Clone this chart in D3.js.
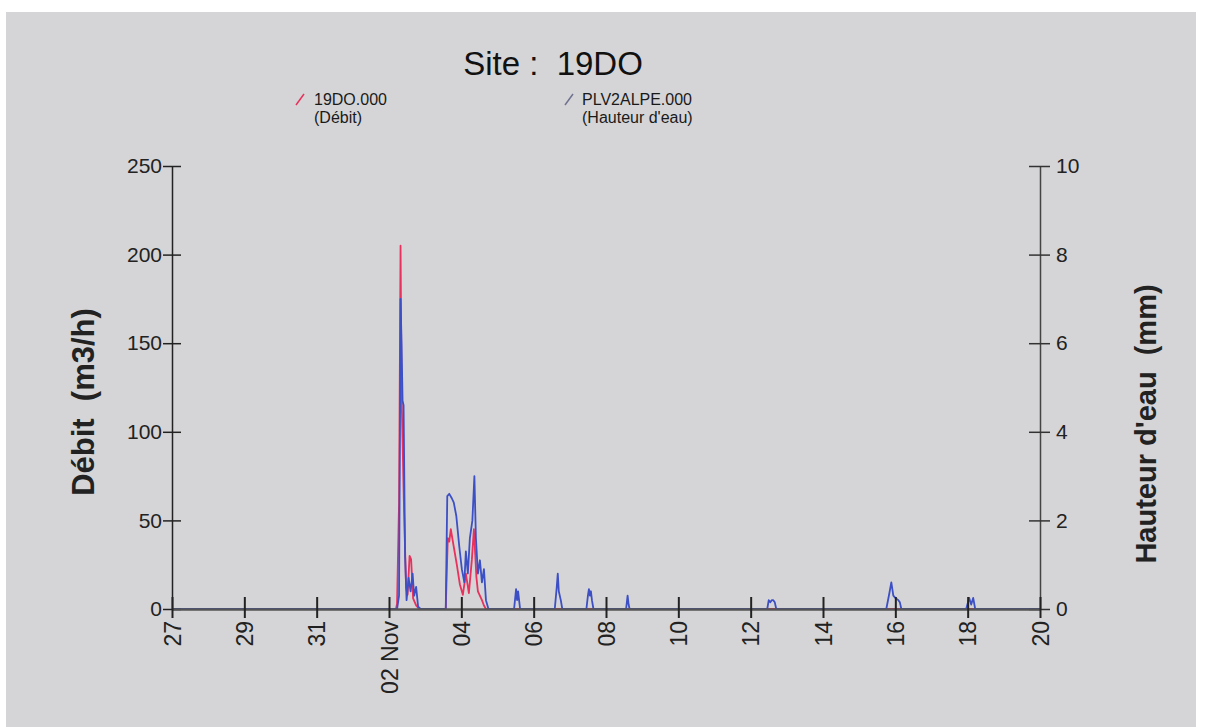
<!DOCTYPE html>
<html><head><meta charset="utf-8">
<script src="https://cdn.jsdelivr.net/npm/d3@7"></script>
<style>
body{margin:0;background:#fff;}
svg{display:block;font-family:"Liberation Sans",Arial,sans-serif;}
svg text{white-space:pre;}
</style>
</head><body>
<svg id="c" width="1206" height="727"></svg>
<script>
// ---- data ----
const titleText = "Site :  19DO";
const debitName = "19DO.000", debitLabel = "(Débit)";
const hauteurName = "PLV2ALPE.000", hauteurLabel = "(Hauteur d'eau)";

const debitTimes = ["2009-10-27T00:00","2009-11-02T04:40","2009-11-02T05:20","2009-11-02T06:40","2009-11-02T07:40","2009-11-02T08:20","2009-11-02T09:00","2009-11-02T10:00","2009-11-02T11:20","2009-11-02T12:20","2009-11-02T13:40","2009-11-02T14:40","2009-11-02T16:00","2009-11-02T18:00","2009-11-02T20:00","2009-11-03T13:40","2009-11-03T15:00","2009-11-03T16:00","2009-11-03T17:00","2009-11-03T19:00","2009-11-03T21:00","2009-11-03T23:00","2009-11-04T01:00","2009-11-04T03:00","2009-11-04T05:00","2009-11-04T07:00","2009-11-04T08:20","2009-11-04T10:00","2009-11-04T11:00","2009-11-04T13:40","2009-11-04T15:00","2009-11-04T16:20","2009-11-20T00:00"];
const debitValues = [0,0,3,60,205,120,95,55,12,8,30,28,6,2,0,0,40,38,45,35,25,14,8,20,9,28,45,18,10,5,2,0,0];

const hauteurTimes = ["2009-10-27T00:00","2009-11-02T05:20","2009-11-02T06:40","2009-11-02T07:20","2009-11-02T07:40","2009-11-02T08:20","2009-11-02T09:00","2009-11-02T09:40","2009-11-02T10:40","2009-11-02T11:40","2009-11-02T13:00","2009-11-02T14:20","2009-11-02T15:40","2009-11-02T16:40","2009-11-02T18:00","2009-11-02T19:20","2009-11-02T21:00",
"2009-11-03T13:40","2009-11-03T14:40","2009-11-03T16:00","2009-11-03T17:40","2009-11-03T19:00","2009-11-03T20:40","2009-11-03T22:40","2009-11-04T00:20","2009-11-04T02:00","2009-11-04T03:00","2009-11-04T04:20","2009-11-04T05:40","2009-11-04T07:20","2009-11-04T08:40","2009-11-04T09:40","2009-11-04T11:00","2009-11-04T12:20","2009-11-04T13:40","2009-11-04T15:00","2009-11-04T16:20","2009-11-04T18:00",
"2009-11-05T11:00","2009-11-05T12:20","2009-11-05T13:00","2009-11-05T13:40","2009-11-05T15:00",
"2009-11-06T14:00","2009-11-06T15:20","2009-11-06T16:00","2009-11-06T16:40","2009-11-06T18:00","2009-11-06T19:00",
"2009-11-07T11:00","2009-11-07T12:00","2009-11-07T12:40","2009-11-07T13:20","2009-11-07T14:00","2009-11-07T14:40","2009-11-07T15:40",
"2009-11-08T13:20","2009-11-08T14:20","2009-11-08T15:00","2009-11-08T15:40",
"2009-11-12T11:00","2009-11-12T12:00","2009-11-12T13:00","2009-11-12T14:00","2009-11-12T15:00","2009-11-12T16:00","2009-11-12T17:00",
"2009-11-15T18:00","2009-11-15T20:00","2009-11-15T21:20","2009-11-15T22:40","2009-11-16T00:00","2009-11-16T02:00","2009-11-16T03:00","2009-11-16T04:00",
"2009-11-17T23:00","2009-11-18T01:00","2009-11-18T02:20","2009-11-18T03:40","2009-11-18T05:00","2009-11-20T00:00"];
const hauteurValues = [0,0,0.3,4.5,7.0,6.0,4.7,4.6,1.2,0.2,0.7,0.4,0.8,0.3,0.5,0.05,0,
0,2.55,2.6,2.5,2.4,2.1,1.4,0.9,0.6,1.3,0.8,1.6,2.0,3.0,1.6,0.8,1.1,0.6,0.9,0.2,0,
0,0.45,0.2,0.4,0,
0,0.5,0.8,0.4,0.2,0,
0,0.3,0.45,0.3,0.4,0.2,0,
0,0.3,0.1,0,
0,0.2,0.15,0.2,0.2,0.15,0,
0,0.35,0.6,0.3,0.25,0.2,0.15,0,
0,0.25,0.1,0.25,0,0];

const xDomain = ["2009-10-27T00:00","2009-11-20T00:00"];
const xTickDates = ["2009-10-27T00:00","2009-10-29T00:00","2009-10-31T00:00","2009-11-02T00:00","2009-11-04T00:00","2009-11-06T00:00","2009-11-08T00:00","2009-11-10T00:00","2009-11-12T00:00","2009-11-14T00:00","2009-11-16T00:00","2009-11-18T00:00","2009-11-20T00:00"];
const xTickLabels = ["27","29","31","02 Nov","04","06","08","10","12","14","16","18","20"];
const leftTicks = [0,50,100,150,200,250];
const rightTicks = [0,2,4,6,8,10];
const leftTitle = "Débit  (m3/h)";
const rightTitle = "Hauteur d'eau  (mm)";

// ---- drawing ----
const parse = d3.utcParse("%Y-%m-%dT%H:%M");
const svg = d3.select("#c");
const W = 1206, H = 727;
const m = {left:172, right:1040, top:166, bottom:609};
const FONT = "Liberation Sans, Arial, sans-serif";

svg.append("rect").attr("x",0).attr("y",0).attr("width",W).attr("height",H).attr("fill","#ffffff");
svg.append("rect").attr("x",6).attr("y",12).attr("width",1190).attr("height",H-12).attr("fill","#d5d5d7");

const x = d3.scaleUtc().domain(xDomain.map(parse)).range([m.left, m.right]);
const yL = d3.scaleLinear().domain([0,250]).range([m.bottom, m.top]);
const yR = d3.scaleLinear().domain([0,10]).range([m.bottom, m.top]);

const debit = debitTimes.map((t,i)=>({t:parse(t), v:debitValues[i]}));
const hauteur = hauteurTimes.map((t,i)=>({t:parse(t), v:hauteurValues[i]}));

svg.append("path").datum(debit)
  .attr("d", d3.line().x(d=>x(d.t)).y(d=>yL(d.v)))
  .attr("fill","none").attr("stroke","#e8315c").attr("stroke-width",1.8).attr("stroke-linejoin","round");
svg.append("path").datum(hauteur)
  .attr("d", d3.line().x(d=>x(d.t)).y(d=>yR(d.v)))
  .attr("fill","none").attr("stroke","#3c4fc4").attr("stroke-width",1.8).attr("stroke-linejoin","round");

// left axis
const gL = svg.append("g").attr("transform",`translate(${m.left},0)`)
  .call(d3.axisLeft(yL).tickValues(leftTicks).tickSize(9).tickPadding(1).tickSizeOuter(0));
gL.selectAll(".tick line").clone().attr("x2",9);
gL.select(".domain").attr("stroke","#222").attr("stroke-width",1.5);
gL.selectAll(".tick line").attr("stroke","#222").attr("stroke-width",1.5);
gL.selectAll("text").attr("font-size",21).attr("fill","#222").attr("font-family",FONT);

// right axis
const gR = svg.append("g").attr("transform",`translate(${m.right},0)`)
  .call(d3.axisRight(yR).tickValues(rightTicks).tickSize(10).tickPadding(6).tickSizeOuter(0));
gR.selectAll(".tick line").clone().attr("x2",-11);
gR.select(".domain").attr("stroke","#444").attr("stroke-width",1.5);
gR.selectAll(".tick line").attr("stroke","#333").attr("stroke-width",1.5);
gR.selectAll("text").attr("font-size",21).attr("fill","#222").attr("font-family",FONT);

// bottom axis
const gB = svg.append("g").attr("transform",`translate(0,${m.bottom})`)
  .call(d3.axisBottom(x).tickValues(xTickDates.map(parse)).tickFormat((d,i)=>xTickLabels[i]).tickSize(9).tickSizeOuter(0));
gB.selectAll(".tick line").clone().attr("y2",-12);
gB.select(".domain").attr("stroke","#555").attr("stroke-width",2.5);
gB.selectAll(".tick line").attr("stroke","#222").attr("stroke-width",2);
gB.selectAll("text").attr("font-size",23).attr("fill","#222")
  .attr("font-family",FONT)
  .attr("text-anchor","end").attr("transform","rotate(-90)")
  .attr("x",-12).attr("y",0).attr("dy","0.35em");

// titles
svg.append("text").attr("x",553).attr("y",75).attr("text-anchor","middle")
  .attr("font-size",33).attr("fill","#111").text(titleText);

svg.append("text").attr("transform","translate(94,402) rotate(-90)").attr("text-anchor","middle")
  .attr("font-size",31).attr("font-weight","bold").attr("fill","#222").text(leftTitle);
svg.append("text").attr("transform","translate(1156,424) rotate(-90)").attr("text-anchor","middle")
  .attr("font-size",29).attr("font-weight","bold").attr("fill","#222").text(rightTitle);

// legend
svg.append("line").attr("x1",296).attr("y1",105).attr("x2",304).attr("y2",94).attr("stroke","#e8315c").attr("stroke-width",1.5);
svg.append("text").attr("x",314).attr("y",105).attr("font-size",16).attr("fill","#1a1a1a").text(debitName);
svg.append("text").attr("x",314).attr("y",123).attr("font-size",16).attr("fill","#1a1a1a").text(debitLabel);
svg.append("line").attr("x1",565).attr("y1",105).attr("x2",573).attr("y2",94).attr("stroke","#6f7290").attr("stroke-width",1.5);
svg.append("text").attr("x",582).attr("y",105).attr("font-size",16).attr("fill","#1a1a1a").text(hauteurName);
svg.append("text").attr("x",582).attr("y",123).attr("font-size",16).attr("fill","#1a1a1a").text(hauteurLabel);
</script>
</body></html>
